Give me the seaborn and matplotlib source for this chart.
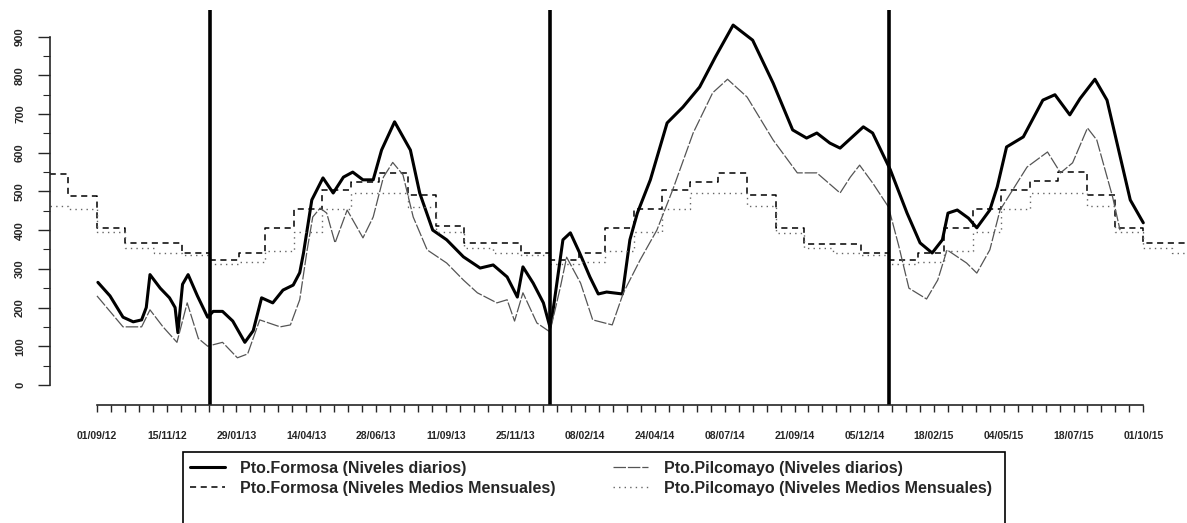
import pandas as pd
import matplotlib
matplotlib.use("Agg")
import matplotlib.pyplot as plt
import matplotlib.dates as mdates
from matplotlib.patches import Rectangle
import seaborn as sns

# --- data ------------------------------------------------------------------
formosa_dates = [
    "2012-09-02", "2012-09-15", "2012-09-29", "2012-10-10", "2012-10-19", "2012-10-24",
    "2012-10-28", "2012-11-08", "2012-11-18", "2012-11-24", "2012-11-27", "2012-12-02",
    "2012-12-08", "2012-12-18", "2012-12-26", "2012-12-29", "2013-01-04", "2013-01-14",
    "2013-01-25", "2013-02-07", "2013-02-16", "2013-02-25", "2013-03-09", "2013-03-20",
    "2013-03-31", "2013-04-07", "2013-04-11", "2013-04-20", "2013-05-02", "2013-05-13",
    "2013-05-24", "2013-06-03", "2013-06-14", "2013-06-25", "2013-07-04", "2013-07-18",
    "2013-08-04", "2013-08-14", "2013-08-28", "2013-09-12", "2013-09-30", "2013-10-18",
    "2013-11-01", "2013-11-16", "2013-11-27", "2013-12-03", "2013-12-14", "2013-12-25",
    "2014-01-01", "2014-01-04", "2014-01-15", "2014-01-23", "2014-02-02", "2014-02-13",
    "2014-02-22", "2014-03-03", "2014-03-20", "2014-03-28", "2014-04-05", "2014-04-19",
    "2014-05-07", "2014-05-24", "2014-06-11", "2014-06-28", "2014-07-17", "2014-08-07",
    "2014-08-29", "2014-09-19", "2014-10-04", "2014-10-15", "2014-10-29", "2014-11-09",
    "2014-12-04", "2014-12-14", "2015-01-02", "2015-01-20", "2015-02-03", "2015-02-16",
    "2015-02-27", "2015-03-05", "2015-03-15", "2015-03-27", "2015-04-05", "2015-04-19",
    "2015-04-27", "2015-05-07", "2015-05-25", "2015-06-15", "2015-06-28", "2015-07-14",
    "2015-07-25", "2015-08-10", "2015-08-23", "2015-09-17", "2015-10-01",
]
formosa_diario = [
    265, 230, 175, 163, 168, 200,
    285, 250, 225, 200, 135, 260,
    285, 230, 190, 175, 190, 190,
    165, 110, 140, 225, 212, 245,
    258, 290, 340, 478, 535, 496,
    537, 550, 530, 530, 607, 680,
    607, 496, 400, 375, 331, 302,
    310, 279, 227, 305, 263, 212,
    150, 186, 375, 393, 341, 279,
    235, 240, 235, 375, 444, 530,
    677, 718, 770, 848, 930, 891,
    780, 659, 638, 651, 625, 612,
    667, 651, 556, 444, 367, 341,
    375, 444, 452, 431, 406, 452,
    512, 615, 641, 736, 750, 698,
    740, 790, 736, 478, 419,
]

pilcomayo_dates = [
    "2012-09-01", "2012-09-15", "2012-09-29", "2012-10-19", "2012-10-28", "2012-11-11",
    "2012-11-26", "2012-12-07", "2012-12-19", "2012-12-29", "2013-01-14", "2013-01-30",
    "2013-02-10", "2013-02-23", "2013-03-17", "2013-03-28", "2013-04-07", "2013-04-15",
    "2013-04-21", "2013-04-29", "2013-05-06", "2013-05-15", "2013-05-28", "2013-06-14",
    "2013-06-25", "2013-07-06", "2013-07-16", "2013-07-27", "2013-08-07", "2013-08-22",
    "2013-09-12", "2013-09-30", "2013-10-15", "2013-11-05", "2013-11-16", "2013-11-24",
    "2013-12-03", "2013-12-18", "2014-01-01", "2014-01-12", "2014-01-19", "2014-02-03",
    "2014-02-16", "2014-03-09", "2014-03-21", "2014-04-08", "2014-04-26", "2014-05-13",
    "2014-06-04", "2014-06-25", "2014-07-11", "2014-08-01", "2014-08-29", "2014-09-24",
    "2014-10-15", "2014-11-09", "2014-11-20", "2014-11-30", "2014-12-14", "2014-12-31",
    "2015-01-11", "2015-01-22", "2015-02-10", "2015-02-22", "2015-03-04", "2015-03-25",
    "2015-04-05", "2015-04-19", "2015-04-30", "2015-05-29", "2015-06-20", "2015-07-04",
    "2015-07-17", "2015-08-02", "2015-08-12", "2015-08-29", "2015-09-06",
]
pilcomayo_diario = [
    230, 190, 150, 150, 194, 150,
    110, 212, 120, 100, 110, 70,
    80, 168, 150, 155, 220, 349,
    434, 457, 444, 367, 452, 380,
    434, 537, 575, 543, 434, 349,
    315, 271, 238, 212, 220, 165,
    238, 160, 137, 250, 330, 263,
    168, 155, 238, 323, 400, 504,
    651, 755, 790, 744, 633, 548,
    548, 496, 537, 568, 522, 460,
    360, 250, 222, 271, 349, 315,
    289, 349, 452, 563, 602, 548,
    574, 664, 633, 486, 400,
]

meses = pd.date_range("2012-07-01", "2015-12-01", freq="MS")
formosa_mensual = [
    545, 488, 405, 368, 368, 340,
    322, 340, 405, 455, 505, 525, 548, 490, 410, 368, 368, 340,
    322, 340, 405, 455, 505, 525, 548, 492, 405, 365, 365, 342,
    322, 342, 405, 455, 505, 528, 550, 492, 405, 366, 368, 342,
]
pilcomayo_mensual = [
    462, 455, 395, 355, 340, 335,
    312, 318, 345, 395, 455, 495, 495, 460, 395, 355, 340, 335,
    312, 318, 345, 395, 455, 495, 495, 462, 392, 355, 340, 336,
    312, 318, 345, 395, 455, 495, 495, 462, 395, 355, 340, 336,
]

cortes_anuales = ["2013-01-01", "2014-01-01", "2015-01-01"]
y_ticks = [0, 100, 200, 300, 400, 500, 600, 700, 800, 900]

leyenda = [
    "Pto.Formosa (Niveles diarios)",
    "Pto.Formosa (Niveles Medios Mensuales)",
    "Pto.Pilcomayo (Niveles diarios)",
    "Pto.Pilcomayo (Niveles Medios Mensuales)",
]

df_formosa = pd.DataFrame({"fecha": pd.to_datetime(formosa_dates), "nivel": formosa_diario})
df_pilco = pd.DataFrame({"fecha": pd.to_datetime(pilcomayo_dates), "nivel": pilcomayo_diario})
df_mens = pd.DataFrame({"fecha": meses, "formosa": formosa_mensual, "pilcomayo": pilcomayo_mensual})

# --- plot --------------------------------------------------------------------
sns.set_style("ticks")
plt.rcParams["font.family"] = ["Liberation Sans", "DejaVu Sans"]

W, H = 1187, 523
fig = plt.figure(figsize=(W / 100, H / 100), dpi=100)
ax = fig.add_axes([50 / W, 1 - 405 / H, (W - 50) / W, (405 - 10) / H])

handles = []
sns.lineplot(data=df_formosa, x="fecha", y="nivel", ax=ax, color="black", lw=2.2)
handles.append(ax.lines[-1])
sns.lineplot(data=df_mens, x="fecha", y="formosa", ax=ax, color="black", lw=1.1,
             drawstyle="steps-post", linestyle=(0, (4, 3)))
handles.append(ax.lines[-1])
sns.lineplot(data=df_pilco, x="fecha", y="nivel", ax=ax, color="#555555", lw=0.9,
             linestyle=(0, (10, 1.5)))
handles.append(ax.lines[-1])
sns.lineplot(data=df_mens, x="fecha", y="pilcomayo", ax=ax, color="#666666", lw=1.0,
             drawstyle="steps-post", linestyle=(0, (1, 3)))
handles.append(ax.lines[-1])

for d in cortes_anuales:
    ax.axvline(pd.Timestamp(d), color="black", lw=2.6)

x0 = pd.Timestamp("2012-09-01")
ax.set_xlim(x0 - pd.Timedelta(days=50.5), x0 + pd.Timedelta(days=1172))
ax.set_ylim(-52, 969)

# R-style axes: no box, spines only between first and last tick
for s in ["top", "right"]:
    ax.spines[s].set_visible(False)
ax.spines["left"].set_bounds(0, 900)
ax.spines["bottom"].set_bounds(mdates.date2num(x0), mdates.date2num(pd.Timestamp("2015-10-01")))
ax.spines["left"].set_linewidth(1.2)
ax.spines["bottom"].set_linewidth(1.2)

ticks_x = pd.date_range(x0, periods=76, freq="15D")
ax.set_xticks(mdates.date2num(ticks_x))
ax.set_xticklabels([t.strftime("%d/%m/%y") if i % 5 == 0 else "" for i, t in enumerate(ticks_x)],
                   fontsize=7.5, fontweight="bold")
ax.tick_params(axis="x", length=5, width=1, pad=14, direction="out")

ax.set_yticks(y_ticks)
ax.set_yticks(range(50, 900, 100), minor=True)
ax.set_yticklabels([str(v) for v in y_ticks], rotation=90, va="center",
                   fontsize=8, fontweight="bold")
ax.tick_params(axis="y", which="major", length=9, width=1, pad=9)
ax.tick_params(axis="y", which="minor", length=5, width=0.8)

ax.set_xlabel("")
ax.set_ylabel("")
ax.grid(False)

# legend box runs off the bottom of the page, as in the scan
leg = fig.legend(handles, leyenda, loc="upper left", bbox_to_anchor=(190 / W, 1 - 461 / H),
                 ncol=2, frameon=False, prop={"size": 11.5, "weight": "bold"},
                 handlelength=2.2, handletextpad=0.95, columnspacing=3.6,
                 labelspacing=0.3, borderpad=0, borderaxespad=0)
fig.patches.append(Rectangle((183 / W, -10 / H), (1005 - 183) / W, (523 + 10 - 452) / H,
                             transform=fig.transFigure, fill=False, edgecolor="black",
                             lw=1.2, clip_on=False))

fig.savefig("out.png", dpi=100)
